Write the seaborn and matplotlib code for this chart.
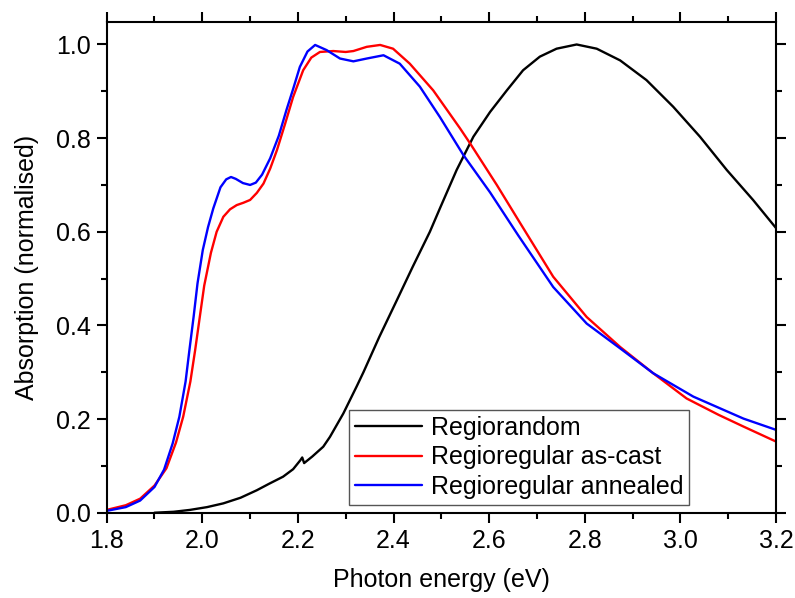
import numpy as np
import pandas as pd
import matplotlib
matplotlib.use("Agg")
import matplotlib.pyplot as plt
from matplotlib.ticker import AutoMinorLocator, FormatStrFormatter
import seaborn as sns

# ---- data ----
random_x = [1.90, 1.94, 1.974, 2.01, 2.044, 2.08, 2.114, 2.14, 2.169, 2.19, 2.205, 2.209,
            2.213, 2.23, 2.253, 2.267, 2.295, 2.323, 2.337, 2.37, 2.407, 2.44, 2.476, 2.497,
            2.532, 2.567, 2.602, 2.637, 2.671, 2.706, 2.741, 2.783, 2.825, 2.874, 2.929,
            2.985, 3.041, 3.097, 3.152, 3.2]
random_y = [0.000, 0.002, 0.006, 0.012, 0.020, 0.032, 0.048, 0.062, 0.077, 0.093, 0.112, 0.118,
            0.106, 0.120, 0.141, 0.162, 0.212, 0.270, 0.300, 0.375, 0.454, 0.525, 0.600, 0.650,
            0.732, 0.803, 0.856, 0.902, 0.945, 0.974, 0.991, 1.000, 0.991, 0.966, 0.924,
            0.867, 0.803, 0.732, 0.668, 0.608]

cast_x = [1.80, 1.84, 1.87, 1.90, 1.925, 1.945, 1.960, 1.975, 1.985, 1.995, 2.004, 2.018,
          2.030, 2.044, 2.058, 2.072, 2.086, 2.100, 2.114, 2.128, 2.142, 2.156, 2.173, 2.190,
          2.211, 2.228, 2.246, 2.274, 2.300, 2.316, 2.344, 2.372, 2.399, 2.434, 2.483, 2.539,
          2.560, 2.616, 2.664, 2.734, 2.804, 2.874, 2.943, 3.013, 3.080, 3.132, 3.200]
cast_y = [0.006, 0.016, 0.030, 0.058, 0.095, 0.150, 0.205, 0.280, 0.347, 0.420, 0.485, 0.555,
          0.600, 0.632, 0.648, 0.657, 0.662, 0.668, 0.683, 0.703, 0.735, 0.774, 0.830, 0.888,
          0.945, 0.972, 0.984, 0.986, 0.984, 0.986, 0.995, 0.999, 0.991, 0.959, 0.902, 0.821,
          0.789, 0.700, 0.620, 0.504, 0.418, 0.354, 0.298, 0.244, 0.209, 0.184, 0.152]

ann_x = [1.80, 1.84, 1.87, 1.90, 1.92, 1.938, 1.952, 1.965, 1.973, 1.982, 1.990, 2.001,
         2.012, 2.023, 2.038, 2.050, 2.060, 2.070, 2.085, 2.100, 2.112, 2.125, 2.142, 2.160,
         2.176, 2.190, 2.204, 2.220, 2.236, 2.260, 2.288, 2.316, 2.344, 2.379, 2.413, 2.455,
         2.497, 2.546, 2.602, 2.661, 2.734, 2.804, 2.874, 2.943, 3.027, 3.132, 3.200]
ann_y = [0.004, 0.012, 0.026, 0.055, 0.092, 0.148, 0.205, 0.280, 0.347, 0.420, 0.490, 0.561,
         0.610, 0.650, 0.695, 0.712, 0.717, 0.713, 0.704, 0.700, 0.705, 0.722, 0.757, 0.805,
         0.860, 0.905, 0.952, 0.985, 0.999, 0.988, 0.970, 0.964, 0.970, 0.977, 0.959, 0.910,
         0.845, 0.764, 0.684, 0.592, 0.482, 0.404, 0.351, 0.298, 0.248, 0.201, 0.177]

labels = ["Regiorandom", "Regioregular as-cast", "Regioregular annealed"]
colors = ["#000000", "#ff0000", "#0000ff"]
x_ticks = [1.8, 2.0, 2.2, 2.4, 2.6, 2.8, 3.0, 3.2]
y_ticks = [0.0, 0.2, 0.4, 0.6, 0.8, 1.0]

sns.set_style("ticks")
plt.rcParams["font.family"] = ["Liberation Sans", "DejaVu Sans"]
for k in ["text.color", "axes.labelcolor", "xtick.color", "ytick.color", "axes.edgecolor"]:
    plt.rcParams[k] = "black"
FS = 18

fig = plt.figure(figsize=(7.95, 5.98), dpi=100)
ax = fig.add_axes([0.1342, 0.1426, 0.8419, 0.8206])

series = [(random_x, random_y), (cast_x, cast_y), (ann_x, ann_y)]
for (xs, ys), lab, col in zip(series, labels, colors):
    df = pd.DataFrame({"x": xs, "y": ys})
    sns.lineplot(data=df, x="x", y="y", ax=ax, color=col, lw=1.7, label=lab,
                 estimator=None, sort=False)

ax.set_xlim(1.8, 3.2)
ax.set_ylim(0, 1.048)
ax.set_xticks(x_ticks)
ax.set_yticks(y_ticks)
ax.xaxis.set_major_formatter(FormatStrFormatter("%.1f"))
ax.yaxis.set_major_formatter(FormatStrFormatter("%.1f"))
ax.xaxis.set_minor_locator(AutoMinorLocator(2))
ax.yaxis.set_minor_locator(AutoMinorLocator(2))
ax.tick_params(which="both", direction="out", top=True, right=True, width=1.5,
               labelsize=FS, colors="black")
ax.tick_params(which="major", length=7.5, pad=4)
ax.tick_params(which="minor", length=4)
for s in ax.spines.values():
    s.set_visible(True)
    s.set_linewidth(1.5)
    s.set_color("black")

ax.set_xlabel("Photon energy (eV)", fontsize=FS, labelpad=11, color="black")
ax.set_ylabel("Absorption (normalised)", fontsize=FS, labelpad=12, color="black")

leg = ax.legend(loc="lower left", bbox_to_anchor=(0.362, 0.016), fontsize=FS,
                frameon=True, fancybox=False, handlelength=2.7, handletextpad=0.34,
                labelspacing=0.22, borderpad=0.24, borderaxespad=0)
leg.get_frame().set_edgecolor("#555555")
leg.get_frame().set_linewidth(1.0)
leg.get_frame().set_alpha(1)

fig.savefig("out.png", dpi=100)
